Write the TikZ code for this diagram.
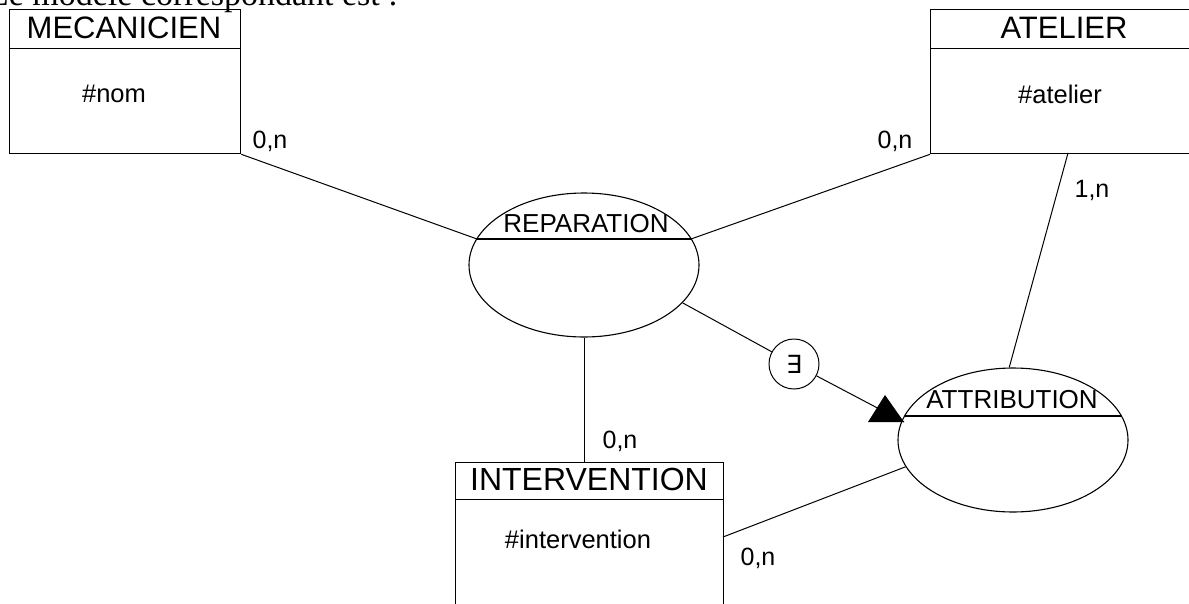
\documentclass[tikz,border=0pt]{standalone}
\usepackage{fontspec}
\setmainfont{Liberation Sans}
\newfontfamily\introfont{Liberation Serif}
\newfontfamily\symfont{DejaVu Sans}
\usetikzlibrary{shapes.geometric}
\begin{document}
\begin{tikzpicture}[x=1pt,y=-1pt,
  box/.style={draw, line width=1.3pt, inner sep=0pt, anchor=north west},
  assoc/.style={draw, ellipse, line width=1.1pt, inner sep=0pt, minimum width=230pt, minimum height=144pt},
  link/.style={line width=1pt},
  ttl/.style={inner sep=0pt, anchor=base, font=\fontsize{31}{37}\selectfont},
  attr/.style={inner sep=0pt, anchor=base, font=\fontsize{25.5}{30}\selectfont},
  asl/.style={inner sep=0pt, anchor=base, font=\fontsize{26}{31}\selectfont},
  card/.style={inner sep=0pt, anchor=base, font=\fontsize{25}{30}\selectfont}]
\useasboundingbox (0,0) rectangle (1189,603);
\clip (0,0) rectangle (1189,603);

% intro text (cut off at the top)
\node[anchor=base east, inner sep=0pt, font=\introfont\fontsize{34}{40}\selectfont] (intro) at (398,5) {Le modèle correspondant est :};

% MECANICIEN
\node[box, minimum width=231pt, minimum height=39pt] (mecT) at (9,9) {};
\node[box, minimum width=231pt, minimum height=105pt] (mecB) at (9,48) {};
\node[ttl] (mecN) at (124,38) {MECANICIEN};
\node[attr] (mecA) at (114,102) {\#nom};

% ATELIER
\node[box, minimum width=268pt, minimum height=39pt] (atT) at (930,9) {};
\node[box, minimum width=268pt, minimum height=105pt] (atB) at (930,48) {};
\node[ttl] (atN) at (1064,38) {ATELIER};
\node[attr] (atA) at (1060,103) {\#atelier};

% INTERVENTION
\node[box, minimum width=268pt, minimum height=37pt] (intT) at (455,462) {};
\node[box, minimum width=268pt, minimum height=120pt] (intB) at (455,499) {};
\node[ttl, font=\fontsize{32}{38}\selectfont] (intN) at (589,490) {INTERVENTION};
\node[attr] (intA) at (578,548) {\#intervention};

% REPARATION
\node[assoc] (rep) at (584,265) {};
\coordinate (repL) at (477,239);
\coordinate (repR) at (691,239);
\draw[line width=1.1pt] (repL) -- (repR);
\node[asl] (repN) at (586,232) {REPARATION};

% ATTRIBUTION
\node[assoc] (att) at (1013,440) {};
\coordinate (attL) at (905,416);
\coordinate (attR) at (1121,416);
\draw[line width=1.1pt] (attL) -- (attR);
\node[asl] (attN) at (1012,408) {ATTRIBUTION};

% existence constraint
\node[circle, draw, line width=1pt, minimum size=50pt, inner sep=0pt, font=\symfont\fontsize{25}{30}\selectfont] (ex) at (794,364) {∃};
\coordinate (tip) at (904,422);

% connectors
\coordinate (intR) at (723,537);
\coordinate (atS) at (1068,153);
\draw[link] (mecB.south east) -- (repL);
\draw[link] (atB.south west) -- (repR);
\draw[link] (rep.south) -- (rep.south |- intT.north);
\draw[link] (rep.-21) -- (ex);
\draw[link] (ex) -- (tip);
\fill (tip) -- ++(-36,0) -- ++(17,-27) -- cycle;
\draw[link] (atS) -- (att.93);
\draw[link] (att.194) -- (intR);

% cardinalities
\node[card] (c1) at (270,148) {0,n};
\node[card] (c2) at (895,148) {0,n};
\node[card] (c3) at (1092,197) {1,n};
\node[card] (c4) at (620,448) {0,n};
\node[card] (c5) at (758,565) {0,n};
\end{tikzpicture}
\end{document}
